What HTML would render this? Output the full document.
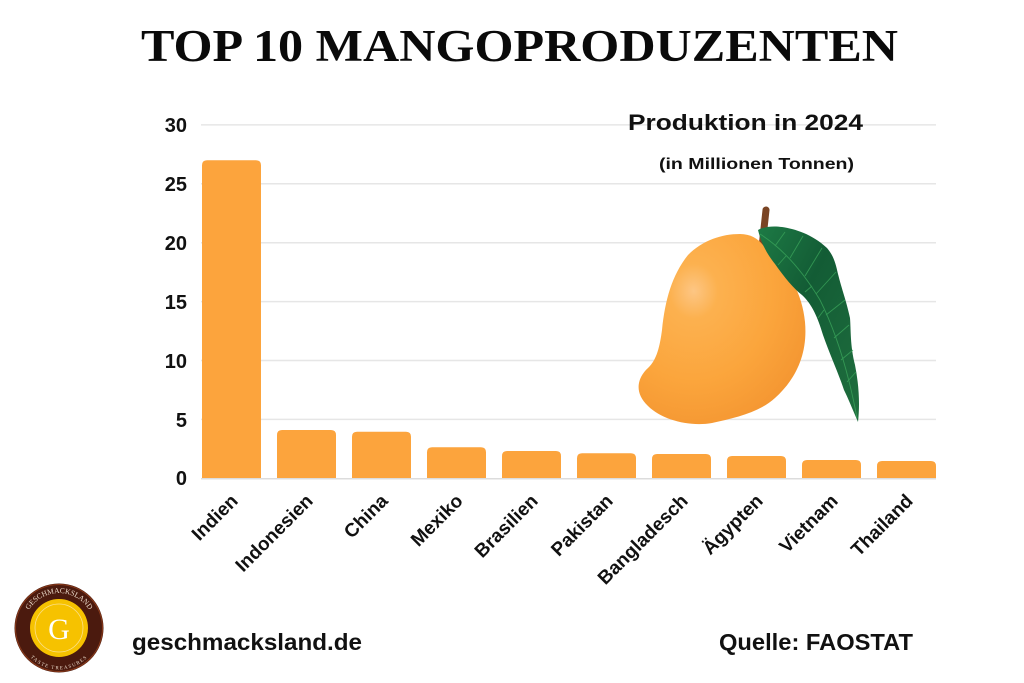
<!DOCTYPE html>
<html><head><meta charset="utf-8"><style>
html,body{margin:0;padding:0;background:#fff;}
svg{display:block;}
</style></head><body>
<svg width="1024" height="683" viewBox="0 0 1024 683" xmlns="http://www.w3.org/2000/svg">
<defs>
<radialGradient id="mg" cx="0.33" cy="0.3" r="0.8">
<stop offset="0" stop-color="#fdc684"/>
<stop offset="0.18" stop-color="#fcb14f"/>
<stop offset="0.6" stop-color="#fba53c"/>
<stop offset="1" stop-color="#f39430"/>
</radialGradient>
<linearGradient id="lg" x1="0" y1="0" x2="1" y2="1">
<stop offset="0" stop-color="#1d7a45"/>
<stop offset="0.4" stop-color="#135c35"/>
<stop offset="1" stop-color="#1f6e3e"/>
</linearGradient>
<path id="arcTop" d="M 24 628 A 35 35 0 0 1 94 628"/>
<path id="arcBot" d="M 22 630 A 37 37 0 0 0 96 630"/>
</defs>
<rect width="1024" height="683" fill="#fff"/>

<!-- Title -->
<text x="141" y="61" font-family="Liberation Serif, serif" font-weight="bold" font-size="45" textLength="757" lengthAdjust="spacingAndGlyphs" fill="#0a0a0a">TOP 10 MANGOPRODUZENTEN</text>

<!-- gridlines -->
<g stroke="#e6e6e6" stroke-width="1.5">
<line x1="201" y1="124.9" x2="936" y2="124.9"/>
<line x1="201" y1="183.8" x2="936" y2="183.8"/>
<line x1="201" y1="242.7" x2="936" y2="242.7"/>
<line x1="201" y1="301.6" x2="936" y2="301.6"/>
<line x1="201" y1="360.5" x2="936" y2="360.5"/>
<line x1="201" y1="419.4" x2="936" y2="419.4"/>
</g>

<!-- y labels -->
<g font-family="Liberation Sans, sans-serif" font-weight="bold" font-size="20" fill="#111" text-anchor="end">
<text x="187" y="132">30</text>
<text x="187" y="191">25</text>
<text x="187" y="250">20</text>
<text x="187" y="309">15</text>
<text x="187" y="368">10</text>
<text x="187" y="427">5</text>
<text x="187" y="485">0</text>
</g>

<!-- bars -->
<g fill="#fca43d">
<path d="M202 478.3 V165.3 Q202 160.3 207 160.3 H256 Q261 160.3 261 165.3 V478.3 Z"/>
<path d="M277 478.3 V435 Q277 430 282 430 H331 Q336 430 336 435 V478.3 Z"/>
<path d="M352 478.3 V436.7 Q352 431.7 357 431.7 H406 Q411 431.7 411 436.7 V478.3 Z"/>
<path d="M427 478.3 V452.3 Q427 447.3 432 447.3 H481 Q486 447.3 486 452.3 V478.3 Z"/>
<path d="M502 478.3 V456 Q502 451 507 451 H556 Q561 451 561 456 V478.3 Z"/>
<path d="M577 478.3 V458.3 Q577 453.3 582 453.3 H631 Q636 453.3 636 458.3 V478.3 Z"/>
<path d="M652 478.3 V459 Q652 454 657 454 H706 Q711 454 711 459 V478.3 Z"/>
<path d="M727 478.3 V461 Q727 456 732 456 H781 Q786 456 786 461 V478.3 Z"/>
<path d="M802 478.3 V465 Q802 460 807 460 H856 Q861 460 861 465 V478.3 Z"/>
<path d="M877 478.3 V466 Q877 461 882 461 H931 Q936 461 936 466 V478.3 Z"/>
</g>
<line x1="201" y1="478.8" x2="936" y2="478.8" stroke="#dcdcdc" stroke-width="1.5"/>

<!-- x labels -->
<g font-family="Liberation Sans, sans-serif" font-weight="bold" font-size="19" fill="#111" text-anchor="end">
<text transform="translate(239,502) rotate(-45)">Indien</text>
<text transform="translate(314,502) rotate(-45)">Indonesien</text>
<text transform="translate(389,502) rotate(-45)">China</text>
<text transform="translate(464,502) rotate(-45)">Mexiko</text>
<text transform="translate(539,502) rotate(-45)">Brasilien</text>
<text transform="translate(614,502) rotate(-45)">Pakistan</text>
<text transform="translate(689,502) rotate(-45)">Bangladesch</text>
<text transform="translate(764,502) rotate(-45)">Ägypten</text>
<text transform="translate(839,502) rotate(-45)">Vietnam</text>
<text transform="translate(914,502) rotate(-45)">Thailand</text>
</g>

<!-- subtitle -->
<text x="628" y="130" font-family="Liberation Sans, sans-serif" font-weight="bold" font-size="22" textLength="235" lengthAdjust="spacingAndGlyphs" fill="#111">Produktion in 2024</text>
<text x="659" y="169" font-family="Liberation Sans, sans-serif" font-weight="bold" font-size="16" textLength="195" lengthAdjust="spacingAndGlyphs" fill="#111">(in Millionen Tonnen)</text>

<!-- mango -->
<path d="M762 247 L766 210" stroke="#7a4424" stroke-width="7" stroke-linecap="round"/>
<path d="M740 234 C752 234 760 240 765 248 C785 265 802 290 805 322 C808 355 795 380 775 398 C760 412 735 418 712 423 C690 427 662 420 648 406 C634 393 637 378 648 368 C657 360 660 345 662 330 C665 300 672 275 688 255 C703 240 722 234 740 234 Z" fill="url(#mg)"/>
<!-- leaf -->
<path d="M758 230 C765 226 775 226 782 227 C795 229 812 234 827 248 C834 256 836 265 838 274 C842 290 846 300 850 318 C851 330 850 345 855 365 C859 385 860 405 858 422 C852 408 848 398 844 390 C838 372 830 355 823 335 C818 318 812 304 802 295 C793 288 785 278 775 264 C768 255 762 246 758 230 Z" fill="url(#lg)"/>
<g stroke="#3aa35a" stroke-width="0.9" fill="none" opacity="0.8">
<path d="M760 234 C785 250 805 275 820 300 C835 330 848 370 857 418"/>
<path d="M775 246 L785 232"/><path d="M790 258 L803 236"/><path d="M805 276 L822 248"/>
<path d="M816 294 L836 272"/><path d="M826 315 L845 300"/><path d="M834 338 L849 325"/>
<path d="M841 360 L853 350"/><path d="M847 382 L856 372"/>
<path d="M786 256 L778 265"/><path d="M812 286 L805 292"/><path d="M824 310 L818 318"/>
</g>

<!-- logo -->
<circle cx="59" cy="628" r="44.5" fill="#4b1a0e"/>
<circle cx="59" cy="628" r="43.5" fill="none" stroke="#8a3a1a" stroke-width="1"/>
<circle cx="59" cy="628" r="29" fill="#f6c200"/>
<circle cx="59" cy="628" r="24" fill="none" stroke="#fbe08a" stroke-width="0.8"/>
<text x="59" y="639" text-anchor="middle" font-family="Liberation Serif, serif" font-size="30" fill="#fff">G</text>
<text font-family="Liberation Serif, serif" font-size="7.5" fill="#e9d8c8"><textPath href="#arcTop" startOffset="50%" text-anchor="middle">GESCHMACKSLAND</textPath></text>
<text font-family="Liberation Serif, serif" font-size="5" fill="#e9d8c8" letter-spacing="1"><textPath href="#arcBot" startOffset="50%" text-anchor="middle" dominant-baseline="hanging">TASTE TREASURES</textPath></text>

<!-- footer -->
<text x="132" y="650" font-family="Liberation Sans, sans-serif" font-weight="bold" font-size="23" textLength="230" lengthAdjust="spacingAndGlyphs" fill="#111">geschmacksland.de</text>
<text x="719" y="650" font-family="Liberation Sans, sans-serif" font-weight="bold" font-size="23" textLength="194" lengthAdjust="spacingAndGlyphs" fill="#111">Quelle: FAOSTAT</text>
</svg>
</body></html>
